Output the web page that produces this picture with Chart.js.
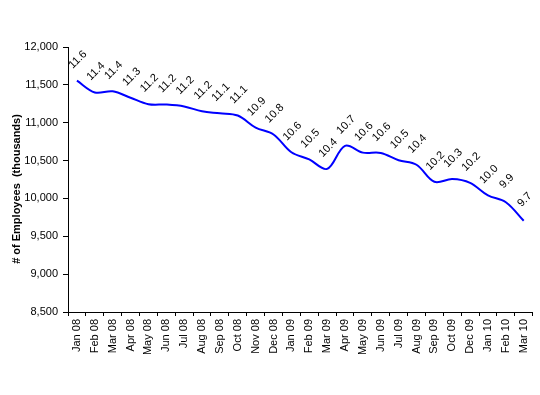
<!DOCTYPE html>
<html>
<head>
<meta charset="utf-8">
<script src="https://cdn.jsdelivr.net/npm/chart.js@4.4.1/dist/chart.umd.min.js"></script>
<style>
  html, body { margin: 0; padding: 0; background: #fff; }
  #wrap { width: 540px; height: 395px; }
</style>
</head>
<body>
<div id="wrap"><canvas id="chart" width="540" height="395"></canvas></div>
<script>
// months shown on the axis (Nov 09 is not in the source)
const months = [
  "Jan 08", "Feb 08", "Mar 08", "Apr 08", "May 08", "Jun 08", "Jul 08", "Aug 08",
  "Sep 08", "Oct 08", "Nov 08", "Dec 08", "Jan 09", "Feb 09", "Mar 09", "Apr 09",
  "May 09", "Jun 09", "Jul 09", "Aug 09", "Sep 09", "Oct 09", "Dec 09", "Jan 10",
  "Feb 10", "Mar 10"
];

// employees, thousands
const employees = [
  11555, 11400, 11415, 11330, 11245, 11240, 11215, 11150,
  11125, 11095, 10935, 10845, 10610, 10515, 10390, 10695,
  10605, 10600, 10505, 10445, 10220, 10255, 10205, 10040,
  9950, 9705
];

const yMin = 8500;
const yMax = 12000;
const yStep = 500;
const yTitle = '# of Employees  (thousands)';

const FONT = '"Liberation Sans", Arial, sans-serif';

// value labels (in millions) rotated above each point + axis title
const pointLabels = {
  id: 'pointLabels',
  afterDatasetsDraw(chart) {
    const ctx = chart.ctx;
    const meta = chart.getDatasetMeta(0);
    ctx.save();
    ctx.fillStyle = '#000';
    ctx.font = '11px ' + FONT;
    ctx.textAlign = 'center';
    ctx.textBaseline = 'middle';
    meta.data.forEach((pt, i) => {
      ctx.save();
      ctx.translate(pt.x + 1, pt.y - 21);
      ctx.rotate(-Math.PI / 4);
      ctx.fillText((employees[i] / 1000).toFixed(1), 0, 0);
      ctx.restore();
    });

    // y title, sits a bit below the middle of the plot like the source
    ctx.font = 'bold 11px ' + FONT;
    ctx.translate(17, 189);
    ctx.rotate(-Math.PI / 2);
    ctx.fillText(yTitle, 0, 0);
    ctx.restore();
  }
};

new Chart(document.getElementById('chart'), {
  type: 'line',
  data: {
    labels: months,
    datasets: [{
      data: employees,
      borderColor: '#0000ff',
      borderWidth: 2,
      pointRadius: 0,
      tension: 0.35,
      fill: false
    }]
  },
  options: {
    responsive: false,
    animation: false,
    layout: { padding: { left: 0, right: 5, top: 47, bottom: 0 } },
    plugins: {
      legend: { display: false },
      tooltip: { enabled: false }
    },
    scales: {
      x: {
        offset: true,
        grid: {
          offset: true,
          drawOnChartArea: false,
          color: '#000',
          tickLength: 4,
          tickColor: '#000'
        },
        border: { color: '#000', width: 1 },
        ticks: {
          color: '#000',
          font: { family: FONT, size: 11 },
          minRotation: 90,
          maxRotation: 90,
          autoSkip: false,
          padding: 3
        },
        afterFit(scale) { scale.height = 83; }
      },
      y: {
        min: yMin,
        max: yMax,
        grid: {
          drawOnChartArea: false,
          color: '#000',
          tickLength: 5,
          tickColor: '#000'
        },
        border: { color: '#000', width: 1 },
        ticks: {
          stepSize: yStep,
          color: '#000',
          padding: 5,
          font: { family: FONT, size: 11 },
          callback: v => v.toLocaleString('en-US')
        },
        afterFit(scale) { scale.width = 68; }
      }
    }
  },
  plugins: [pointLabels]
});
</script>
</body>
</html>
